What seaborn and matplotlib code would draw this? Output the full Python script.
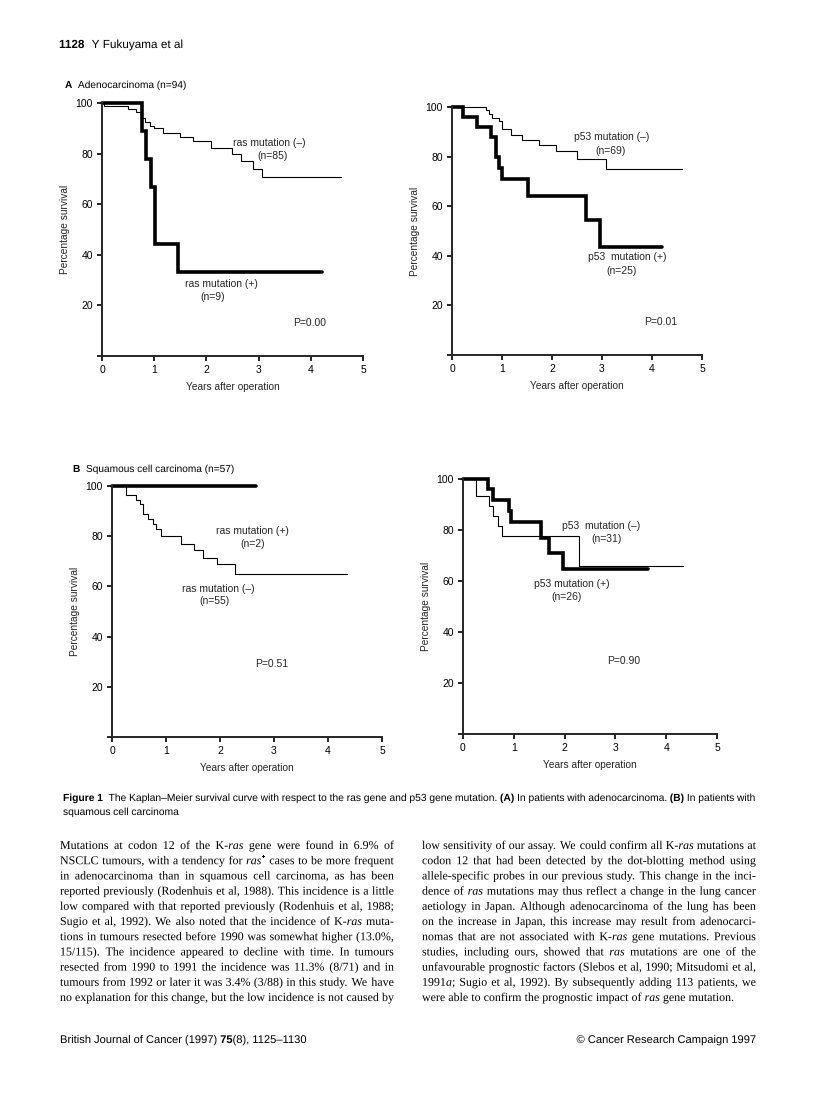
import matplotlib
matplotlib.use('Agg')
import matplotlib.pyplot as plt
import seaborn as sns
import pandas as pd
from matplotlib.textpath import TextPath
from matplotlib.patches import PathPatch
from matplotlib.transforms import Affine2D
from matplotlib.font_manager import FontProperties, findfont, get_font

try:
    from matplotlib.ft2font import LoadFlags
    NO_HINT = LoadFlags.NO_HINTING
except ImportError:
    NO_HINT = 2

W, H = 816, 1116

# ---- survival curves (years, % survival) ----
# A: adenocarcinoma, ras
ras_neg_a_t = [0, 0.04, 0.5, 0.66, 0.75, 0.82, 0.91, 1.0, 1.17, 1.5, 1.74, 2.09, 2.49, 2.67, 2.9, 3.06, 4.58]
ras_neg_a_s = [100, 98.8, 97.6, 96.5, 94, 92.5, 91, 90, 88.2, 86.5, 84.8, 82.4, 80, 77.2, 74, 70.6, 70.6]
ras_pos_a_t = [0, 0.77, 0.85, 0.93, 1.01, 1.46, 4.21]
ras_pos_a_s = [100, 88.9, 77.8, 66.7, 44.4, 33.3, 33.3]
# A: adenocarcinoma, p53
p53_neg_a_t = [0, 0.67, 0.73, 0.8, 0.93, 1.0, 1.17, 1.4, 1.73, 2.07, 2.49, 3.07, 4.6]
p53_neg_a_s = [100, 98.6, 97.1, 95.7, 94.2, 91, 88.9, 86.8, 84.7, 82.3, 79, 75.2, 75.2]
p53_pos_a_t = [0, 0.22, 0.49, 0.77, 0.87, 0.93, 1.0, 1.52, 2.67, 2.95, 4.2]
p53_pos_a_s = [100, 96, 92, 88, 80, 75.5, 71, 64, 54.5, 43.7, 43.7]
# B: squamous cell carcinoma, ras
ras_pos_b_t = [0, 2.67]
ras_pos_b_s = [100, 100]
ras_neg_b_t = [0, 0.25, 0.44, 0.51, 0.58, 0.67, 0.76, 0.82, 0.9, 1.27, 1.52, 1.68, 1.94, 2.28, 4.36]
ras_neg_b_s = [100, 96.4, 94.5, 92.7, 89, 87, 85, 83, 80, 77, 74.5, 71.5, 69, 65, 65]
# B: squamous cell carcinoma, p53
p53_neg_b_t = [0, 0.26, 0.52, 0.6, 0.68, 0.77, 2.28, 4.34]
p53_neg_b_s = [100, 93.5, 89.5, 85.6, 81.4, 77.5, 65.8, 65.8]
p53_pos_b_t = [0, 0.49, 0.6, 0.9, 0.95, 1.54, 1.69, 1.96, 3.65]
p53_pos_b_s = [100, 96, 91.8, 87.5, 83, 77, 71, 64.7, 64.7]

x_ticks = [0, 1, 2, 3, 4, 5]
y_ticks = [0, 20, 40, 60, 80, 100]
y_ticklabels = ['', '20', '40', '60', '80', '100']

# panel annotations: (text, x, y)
notes_a1 = [('ras mutation (\u2013)', 3.2, 84), ('(n=85)', 3.26, 79),
            ('ras mutation (+)', 2.29, 28.4), ('(n=9)', 2.13, 23.4), ('P=0.00', 3.98, 13.2)]
notes_a2 = [('p53 mutation (\u2013)', 3.2, 87.9), ('(n=69)', 3.17, 82.1),
            ('p53  mutation (+)', 3.5, 39.7), ('(n=25)', 3.4, 33.9), ('P=0.01', 4.17, 13.5)]
notes_b1 = [('ras mutation (+)', 2.6, 81.9), ('(n=2)', 2.6, 76.7),
            ('ras mutation (\u2013)', 1.97, 59.1), ('(n=55)', 1.9, 54), ('P=0.51', 2.96, 28.9)]
notes_b2 = [('p53  mutation (\u2013)', 2.72, 81.6), ('(n=31)', 2.82, 76.4),
            ('p53 mutation (+)', 2.15, 58.7), ('(n=26)', 2.03, 53.7), ('P=0.90', 3.16, 28.8)]

left_col = [
    "Mutations at codon 12 of the K-*ras* gene were found in 6.9% of",
    "NSCLC tumours, with a tendency for *ras*^+^ cases to be more frequent",
    "in adenocarcinoma than in squamous cell carcinoma, as has been",
    "reported previously (Rodenhuis et al, 1988). This incidence is a little",
    "low compared with that reported previously (Rodenhuis et al, 1988;",
    "Sugio et al, 1992). We also noted that the incidence of K-*ras* muta-",
    "tions in tumours resected before 1990 was somewhat higher (13.0%,",
    "15/115). The incidence appeared to decline with time. In tumours",
    "resected from 1990 to 1991 the incidence was 11.3% (8/71) and in",
    "tumours from 1992 or later it was 3.4% (3/88) in this study. We have",
    "no explanation for this change, but the low incidence is not caused by",
]
right_col = [
    "low sensitivity of our assay. We could confirm all K-*ras* mutations at",
    "codon 12 that had been detected by the dot-blotting method using",
    "allele-specific probes in our previous study. This change in the inci-",
    "dence of *ras* mutations may thus reflect a change in the lung cancer",
    "aetiology in Japan. Although adenocarcinoma of the lung has been",
    "on the increase in Japan, this increase may result from adenocarci-",
    "nomas that are not associated with K-*ras* gene mutations. Previous",
    "studies, including ours, showed that *ras* mutations are one of the",
    "unfavourable prognostic factors (Slebos et al, 1990; Mitsudomi et al,",
    "1991*a*; Sugio et al, 1992). By subsequently adding 113 patients, we",
    "were able to confirm the prognostic impact of *ras* gene mutation.",
]
caption = ["#Figure 1#  The Kaplan\u2013Meier survival curve with respect to the ras gene and p53 gene "
           "mutation. #(A)# In patients with adenocarcinoma. #(B)# In patients with",
           "squamous cell carcinoma"]
header = "#1128#  Y Fukuyama et al"
title_a = "#A#  Adenocarcinoma (n=94)"
title_b = "#B#  Squamous cell carcinoma (n=57)"
footer_left = "British Journal of Cancer (1997) #75#(8), 1125\u20131130"
footer_right = "\u00a9 Cancer Research Campaign 1997"

sns.set_style('ticks')
plt.rcParams['font.family'] = ['Liberation Sans', 'DejaVu Sans']
plt.rcParams['axes.linewidth'] = 1.4

fig = plt.figure(figsize=(W / 100, H / 100), dpi=100)


def make_ax(x0, x1, ytop, ybot):
    return fig.add_axes([x0 / W, 1 - ybot / H, (x1 - x0) / W, (ybot - ytop) / H])


def km_panel(ax, curves, notes):
    for t, s, lw in curves:
        df = pd.DataFrame({'years': t, 'surv': s})
        sns.lineplot(data=df, x='years', y='surv', ax=ax, estimator=None, sort=False,
                     drawstyle='steps-post', color='black', linewidth=lw,
                     solid_joinstyle='miter', clip_on=False)
    ax.set_xlim(0, 5)
    ax.set_ylim(0, 100)
    ax.set_xticks(x_ticks)
    ax.set_yticks(y_ticks)
    ax.set_yticklabels(y_ticklabels)
    ax.tick_params(length=3.5, width=1.2, pad=3, labelsize=7.5, colors='black')
    ax.set_xlabel('Years after operation', fontsize=7.3, labelpad=5)
    ax.set_ylabel('Percentage survival', fontsize=7.3, labelpad=4)
    for txt, x, y in notes:
        ax.text(x, y, txt, ha='center', va='center', fontsize=7.5)
    sns.despine(ax=ax)


THIN, THICK = 0.8, 2.6
ax1 = make_ax(102, 363, 103, 356)
km_panel(ax1, [(ras_neg_a_t, ras_neg_a_s, THIN), (ras_pos_a_t, ras_pos_a_s, THICK)], notes_a1)
ax2 = make_ax(452, 702, 107, 355)
km_panel(ax2, [(p53_neg_a_t, p53_neg_a_s, THIN), (p53_pos_a_t, p53_pos_a_s, THICK)], notes_a2)
ax3 = make_ax(112, 382, 486, 737)
km_panel(ax3, [(ras_neg_b_t, ras_neg_b_s, THIN), (ras_pos_b_t, ras_pos_b_s, THICK)], notes_b1)
ax4 = make_ax(463, 717, 479, 734)
km_panel(ax4, [(p53_neg_b_t, p53_neg_b_s, THIN), (p53_pos_b_t, p53_pos_b_s, THICK)], notes_b2)


# ---- page text: drawn as glyph outlines so words share one exact baseline ----
SERIF = ['Liberation Serif', 'DejaVu Serif']
SANS = ['Liberation Sans', 'DejaVu Sans']


def parse(line):
    # * italic, # bold, ^ superscript
    words, runs, buf = [], [], ''
    state = {'it': False, 'bf': False, 'sup': False}
    for ch in line + ' ':
        if ch in '*#^ ':
            if buf:
                runs.append((buf, dict(state)))
                buf = ''
            if ch == ' ':
                words.append(runs)
                runs = []
            else:
                key = {'*': 'it', '#': 'bf', '^': 'sup'}[ch]
                state[key] = not state[key]
        else:
            buf += ch
    return words


def fprop(family, st):
    return FontProperties(family=family, weight='bold' if st['bf'] else 'normal',
                          style='italic' if st['it'] else 'normal')


def advance(s, prop, size_px):
    font = get_font(findfont(prop))
    font.set_size(size_px, 72)
    return sum(font.load_char(ord(c), flags=NO_HINT).linearHoriAdvance for c in s) / 65536


PLAIN = {'it': False, 'bf': False, 'sup': False}


def layout(line, family, size):
    px = size * 100 / 72
    words = parse(line)
    pieces, wws = [], []
    for word in words:
        items, ww = [], 0
        for s, st in word:
            p = fprop(family, st)
            sz = px * 0.65 if st['sup'] else px
            items.append((s, p, sz, ww, px * 0.42 if st['sup'] else 0))
            ww += advance(s, p, sz)
        pieces.append(items)
        wws.append(ww)
    space = advance(' ', fprop(family, PLAIN), px)
    return pieces, wws, space


def natural_width(line, family, size):
    _, wws, space = layout(line, family, size)
    return sum(wws) + space * (len(wws) - 1)


def draw_line(x, y, line, family, size, width=None, align='left'):
    pieces, wws, space = layout(line, family, size)
    if width is not None and len(wws) > 1:
        space = (width - sum(wws)) / (len(wws) - 1)
    if align == 'right':
        x -= sum(wws) + space * (len(wws) - 1)
    cx = x
    for items, ww in zip(pieces, wws):
        for s, p, sz, off, rise in items:
            path = TextPath((0, 0), s, size=sz, prop=p)
            tr = Affine2D().translate(cx + off, H - y + rise)
            fig.add_artist(PathPatch(path, transform=tr, facecolor='black', edgecolor='none', lw=0))
        cx += ww + space


# header
hdr_size = 8 * 124 / natural_width(header, SANS, 8)
draw_line(59, 48, header, SANS, hdr_size)

# panel titles
ttl_size = 7.5 * 121 / natural_width(title_a, SANS, 7.5)
draw_line(65, 88, title_a, SANS, ttl_size)
draw_line(73, 472, title_b, SANS, ttl_size)

# caption
cap_size = 7 * 697 / natural_width(caption[0], SANS, 7)
draw_line(63, 801, caption[0], SANS, cap_size)
draw_line(63, 815, caption[1], SANS, cap_size)

# body text, justified in two columns
colw = 334
body_size = 10 * colw / max(natural_width(l, SERIF, 10) for l in left_col + right_col) * 0.995
for i, line in enumerate(left_col):
    draw_line(60, 849 + i * 15.2, line, SERIF, body_size, width=colw)
for i, line in enumerate(right_col):
    last = i == len(right_col) - 1
    draw_line(422, 849 + i * 15.2, line, SERIF, body_size, width=None if last else colw)

# footer
foot_size = 7.5 * 248 / natural_width(footer_left, SANS, 7.5)
draw_line(60, 1043, footer_left, SANS, foot_size)
draw_line(756, 1043, footer_right, SANS, foot_size, align='right')

plt.savefig('out.png', dpi=100)
